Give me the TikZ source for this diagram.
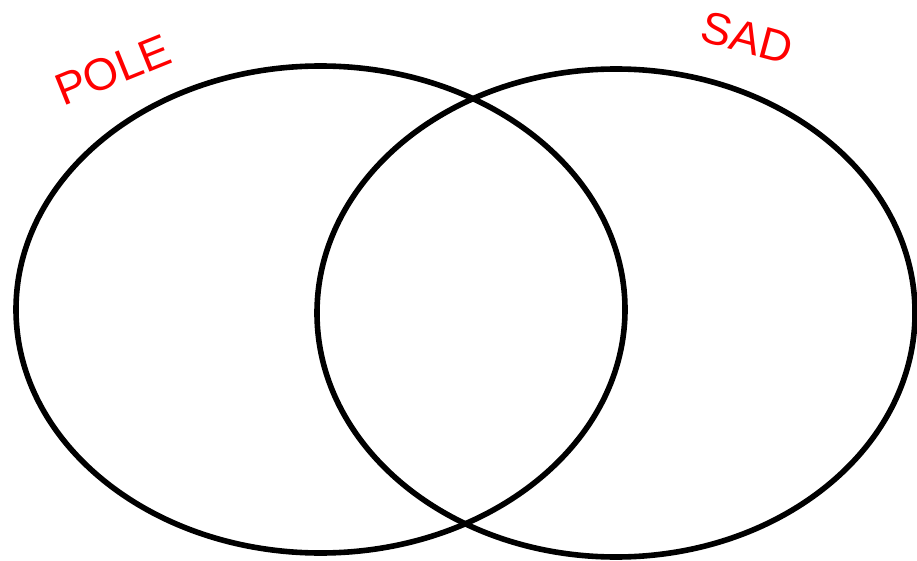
\documentclass[tikz,border=0pt]{standalone}
\usepackage{fontspec}
\setmainfont{Liberation Sans}
\begin{document}
\begin{tikzpicture}[x=1pt,y=-1pt,
  venn/.style={draw=black,line width=5.6pt},
  lbl/.style={text=red,font=\fontsize{45}{45}\selectfont,inner sep=0pt}]
\useasboundingbox (0,0) rectangle (917,561);
\draw[venn] (320.5,309.5) ellipse [x radius=304.5, y radius=243.5];
\draw[venn] (616,313) ellipse [x radius=299, y radius=244];
\node[lbl,rotate=22] (pole) at (113,70) {POLE};
\node[lbl,rotate=-15] (sad) at (747,38) {SAD};
\end{tikzpicture}
\end{document}
